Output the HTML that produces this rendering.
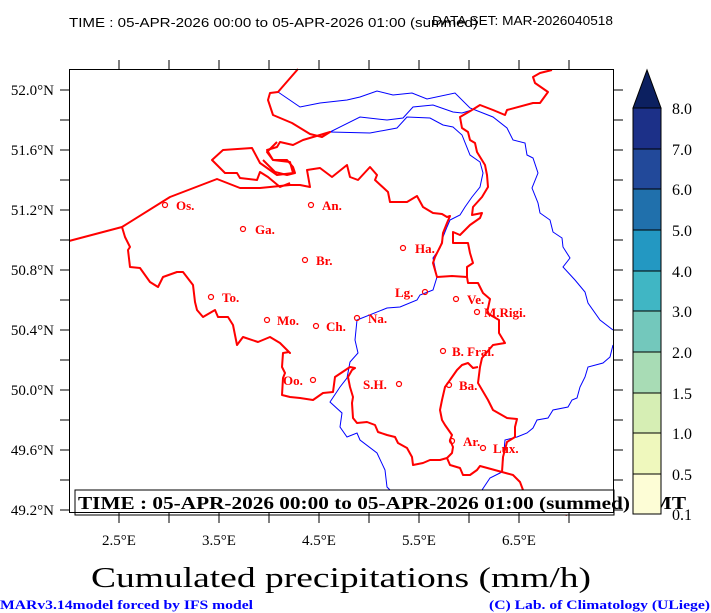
<!DOCTYPE html>
<html><head><meta charset="utf-8"><style>
html,body{margin:0;padding:0;background:#fff;}
svg{display:block;}
</style></head><body>
<svg width="711" height="613" viewBox="0 0 711 613" xmlns="http://www.w3.org/2000/svg">
<rect width="711" height="613" fill="#fff"/>
<text x="69" y="27" font-family="Liberation Sans, sans-serif" font-size="13" fill="#000" textLength="409" lengthAdjust="spacingAndGlyphs">TIME : 05-APR-2026 00:00 to 05-APR-2026 01:00 (summed)</text>
<text x="432" y="25" font-family="Liberation Sans, sans-serif" font-size="13" fill="#000" textLength="181" lengthAdjust="spacingAndGlyphs">DATA SET: MAR-2026040518</text>

<g fill="none" stroke="#0000ff" stroke-width="1">
<polyline points="278,92 300,107 320,103 347,100 360,97 377,91 393,95 412,93 427,99 455,93 470,108 493,117 507,128 513,140 525,143 527,155 533,158 538,173 532,188 538,203 540,213 550,220 553,232 562,238 563,247 570,258 563,267 575,280 585,292 588,303 600,320 613,330"/>
<polyline points="613,345 610,357 603,363 588,367 585,377 580,387 577,398 572,400 568,407 553,410 548,418 537,420 533,428 527,433 517,437 505,440 502,472 490,478 482,490 485,513"/>
<polyline points="330,132 360,117 387,120 403,118 413,107 433,105 453,112 462,113 472,110"/>
<polyline points="330,132 370,133 397,128 407,117 430,118 443,125 453,127 462,135 470,155 480,162 483,173 480,187 472,197 465,207 460,215 450,220 447,227 443,237 440,248 433,258 437,277 433,290 420,295 417,300 400,307 387,308 357,320 355,340 358,353 350,362 347,378 340,387 330,402 342,413 340,427 347,437 357,433 360,440 377,453 385,470 387,487 400,500 403,513"/>
</g>

<g fill="none" stroke="#ff0000" stroke-width="2" stroke-linejoin="round">
<polyline points="69,241 122,227 170,197 217,179 240,188 260,188 290,185 300,185 310,187 307,170 320,168 332,177 347,165 350,177 358,180 370,167 377,175 375,180 388,192 390,202 407,202 417,196 423,207 433,213 442,214 447,217 450,216 447,223 443,233 442,243 435,257 433,263 437,277 452,276 467,277 468,283 478,283 483,293 490,299 487,313 499,320 499,333 505,343 493,345 482,358 480,367 478,383 488,400 493,410 507,418 517,419 515,427 515,437 507,442 503,457 502,472"/>
<polyline points="502,472 480,466 477,470 470,475 463,475 460,468 450,465 447,458 452,453 453,447 450,440 452,435 445,425 442,420 440,410 442,400 445,387 450,380 457,370 462,365 468,363 473,368 478,367"/>
<polyline points="502,472 513,475 520,482 523,490 530,500 537,513"/>
<polyline points="550,510 567,515"/>
<polyline points="447,458 440,460 430,460 423,463 413,465 412,457 407,448 398,443 395,437 387,435 378,432 375,425 367,422 357,423 353,418 352,403 353,397 350,387 348,377 352,370 355,368 350,367 335,377 333,392 323,393 313,400 300,398 290,397 282,395 283,378 285,373 282,367 283,353 289,352 290,353 280,343 270,337 258,342 243,337 237,345 233,325 228,317 218,317 215,310 203,317 197,310 195,302 193,285 183,272 177,272 163,277 158,287 150,282 140,268 130,267 128,250 130,247 125,237 122,227"/>
<polyline points="298,69 278,92 270,93 268,100 273,115 292,123 310,134 322,137 330,132 303,140 293,145 280,142 277,147 267,150 273,160 287,160 293,167 295,173 287,175 275,172 263,160"/>
<polyline points="277,142 267,152 273,160 290,162 293,173 277,175 260,163 252,148 223,150 212,160 225,173 237,173 240,178 257,180 260,172 268,177 280,187 290,183"/>
<polyline points="472,110 460,117 462,128 468,132 470,140 475,143 477,152 485,165 487,175 488,187 482,197 473,207 472,215 482,213 480,218 470,225 460,235 453,232 453,243 468,243 470,253 473,263 467,267 467,277"/>
<polyline points="472,110 480,105 493,110 505,115 507,110 533,103 540,103 548,92 535,83 533,77 540,73 552,70"/>
</g>

<g font-family="Liberation Serif, serif" font-size="13" font-weight="bold" fill="#ff0000">
<g fill="none" stroke="#ff0000" stroke-width="1.2">
<circle cx="165" cy="205" r="2.5"/><circle cx="311" cy="205" r="2.5"/><circle cx="243" cy="229" r="2.5"/>
<circle cx="403" cy="248" r="2.5"/><circle cx="305" cy="260" r="2.5"/><circle cx="211" cy="297" r="2.5"/>
<circle cx="425" cy="292" r="2.5"/><circle cx="456" cy="299" r="2.5"/><circle cx="477" cy="312" r="2.5"/>
<circle cx="267" cy="320" r="2.5"/><circle cx="316" cy="326" r="2.5"/><circle cx="357" cy="318" r="2.5"/>
<circle cx="443" cy="351" r="2.5"/><circle cx="313" cy="380" r="2.5"/><circle cx="399" cy="384" r="2.5"/>
<circle cx="449" cy="385" r="2.5"/><circle cx="452" cy="441" r="2.5"/><circle cx="483" cy="448" r="2.5"/>
</g>
<text x="176" y="210">Os.</text><text x="322" y="210">An.</text><text x="255" y="234">Ga.</text>
<text x="415" y="253">Ha.</text><text x="316" y="265">Br.</text><text x="222" y="302">To.</text>
<text x="395" y="297">Lg.</text><text x="467" y="304">Ve.</text><text x="484" y="317">M.Rigi.</text>
<text x="277" y="325">Mo.</text><text x="326" y="331">Ch.</text><text x="368" y="323">Na.</text>
<text x="452" y="356">B. Frai.</text><text x="283" y="385">Oo.</text><text x="363" y="389">S.H.</text>
<text x="459" y="390">Ba.</text><text x="463" y="446">Ar.</text><text x="493" y="453">Lux.</text>
</g>

<rect x="75" y="490" width="539" height="25" fill="#fff" stroke="#000" stroke-width="1"/>
<text x="78" y="509" font-family="Liberation Serif, serif" font-size="18" font-weight="bold" fill="#000" textLength="608" lengthAdjust="spacingAndGlyphs">TIME : 05-APR-2026 00:00 to 05-APR-2026 01:00 (summed) GMT</text>

<rect x="69.5" y="69.5" width="544" height="443" fill="none" stroke="#000" stroke-width="1"/>
<g stroke="#000" stroke-width="1">
<path d="M119 60V69M169 60V69M219 60V69M269 60V69M319 60V69M369 60V69M419 60V69M469 60V69M519 60V69M569 60V69"/>
<path d="M119 513V523M169 513V523M219 513V523M269 513V523M319 513V523M369 513V523M419 513V523M469 513V523M519 513V523M569 513V523"/>
<path d="M60 90H69M60 120H69M60 150H69M60 180H69M60 210H69M60 240H69M60 270H69M60 300H69M60 330H69M60 360H69M60 390H69M60 420H69M60 450H69M60 480H69M60 510H69"/>
<path d="M614 90H623M614 120H623M614 150H623M614 180H623M614 210H623M614 240H623M614 270H623M614 300H623M614 330H623M614 360H623M614 390H623M614 420H623M614 450H623M614 480H623M614 510H623"/>
</g>
<g font-family="Liberation Serif, serif" font-size="15" fill="#000" text-anchor="end">
<text x="54" y="95">52.0°N</text><text x="54" y="155">51.6°N</text><text x="54" y="215">51.2°N</text>
<text x="54" y="275">50.8°N</text><text x="54" y="335">50.4°N</text><text x="54" y="395">50.0°N</text>
<text x="54" y="455">49.6°N</text><text x="54" y="515">49.2°N</text>
</g>
<g font-family="Liberation Serif, serif" font-size="15" fill="#000" text-anchor="middle">
<text x="119" y="545">2.5°E</text><text x="219" y="545">3.5°E</text><text x="319" y="545">4.5°E</text>
<text x="419" y="545">5.5°E</text><text x="519" y="545">6.5°E</text>
</g>

<g stroke="#000" stroke-width="1">
<polygon points="633,108 661,108 647,70" fill="#0c2060"/>
<rect x="633" y="108" width="28" height="41" fill="#1c3088"/>
<rect x="633" y="149" width="28" height="40" fill="#22499a"/>
<rect x="633" y="189" width="28" height="41" fill="#2070ac"/>
<rect x="633" y="230" width="28" height="41" fill="#2398c2"/>
<rect x="633" y="271" width="28" height="40" fill="#40b6c4"/>
<rect x="633" y="311" width="28" height="41" fill="#73c8bc"/>
<rect x="633" y="352" width="28" height="41" fill="#a8dcb5"/>
<rect x="633" y="393" width="28" height="40" fill="#d6eeb4"/>
<rect x="633" y="433" width="28" height="41" fill="#eff8bd"/>
<rect x="633" y="474" width="28" height="40" fill="#fdfdd6"/>
</g>
<g font-family="Liberation Serif, serif" font-size="16" fill="#000">
<text x="672" y="114">8.0</text><text x="672" y="155">7.0</text><text x="672" y="195">6.0</text>
<text x="672" y="236">5.0</text><text x="672" y="277">4.0</text><text x="672" y="317">3.0</text>
<text x="672" y="358">2.0</text><text x="672" y="399">1.5</text><text x="672" y="439">1.0</text>
<text x="672" y="480">0.5</text><text x="672" y="520">0.1</text>
</g>

<text x="91" y="587" font-family="Liberation Serif, serif" font-size="28" fill="#000" textLength="500" lengthAdjust="spacingAndGlyphs">Cumulated precipitations (mm/h)</text>
<text x="0" y="609" font-family="Liberation Serif, serif" font-size="13" font-weight="bold" fill="#0000ff" textLength="253" lengthAdjust="spacingAndGlyphs">MARv3.14model forced by IFS model</text>
<text x="489" y="609" font-family="Liberation Serif, serif" font-size="13" font-weight="bold" fill="#0000ff" textLength="221" lengthAdjust="spacingAndGlyphs">(C) Lab. of Climatology (ULiege)</text>
</svg>
</body></html>
